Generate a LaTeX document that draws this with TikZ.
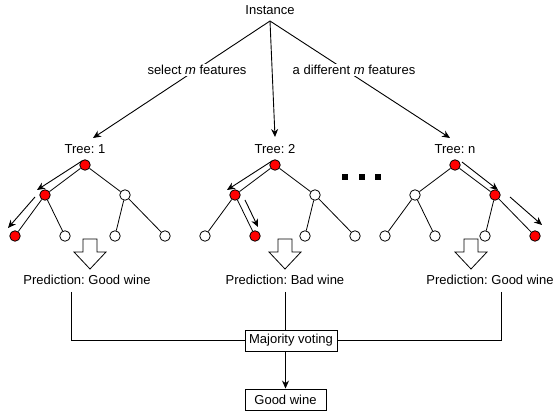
\documentclass[tikz,border=0pt]{standalone}
\usepackage{fontspec}
\setmainfont{Liberation Sans}
\usetikzlibrary{arrows.meta}
\frenchspacing
\tikzset{
  txt/.style={inner sep=0pt, font=\fontsize{13}{15}\selectfont},
  tn/.style={circle, draw, fill=white, minimum size=10.5pt, inner sep=0pt, line width=0.8pt},
  rn/.style={tn, fill=red},
  tedge/.style={line width=0.8pt},
  conn/.style={line width=0.9pt, -{Stealth[length=8pt,width=7pt]}},
  trav/.style={line width=0.9pt, -{Stealth[length=8pt,width=7pt]}},
  boxn/.style={txt, draw, line width=0.9pt, minimum height=21pt},
  dotn/.style={fill=black, minimum size=6pt, inner sep=0pt},
  blockarrow/.pic={\draw[line width=0.8pt, fill=white] (-7,0) -- (7,0) -- (7,13) -- (16,13) -- (0,30) -- (-16,13) -- (-7,13) -- cycle;}
}
\begin{document}
\begin{tikzpicture}[x=1pt,y=-1pt]
\useasboundingbox[fill=white] (0,0) rectangle (555,411);

% top
\node[txt] (inst) at (270,10) {Instance};
\coordinate (apex) at (270,21);
\coordinate (e1) at (93,138);
\coordinate (e2) at (275,137);
\coordinate (e3) at (450,138);
\draw[conn] (apex) -- (e1);
\draw[conn] (apex) -- (e2);
\draw[conn] (apex) -- (e3);
\node[txt, fill=white, inner sep=1pt] (lab1) at (197,70) {select \textit{m} features};
\node[txt, fill=white, inner sep=1pt] (lab2) at (354,70) {a different \textit{m} features};

% tree labels
\node[txt] (t1) at (85,149) {Tree: 1};
\node[txt] (t2) at (275,149) {Tree: 2};
\node[txt] (t3) at (455,149) {Tree: n};

% tree 1
\node[rn] (r1) at (85,165) {};
\node[rn] (m1) at (45,195) {};
\node[tn] (n1) at (125,195) {};
\node[rn] (a1) at (15,236) {};
\node[tn] (b1) at (65,236) {};
\node[tn] (c1) at (115,236) {};
\node[tn] (d1) at (165,236) {};
\draw[tedge] (r1) -- (m1); \draw[tedge] (r1) -- (n1);
\draw[tedge] (m1) -- (a1); \draw[tedge] (m1) -- (b1);
\draw[tedge] (n1) -- (c1); \draw[tedge] (n1) -- (d1);
\draw[trav] ([shift={(-3,-4)}]r1.center) -- ([shift={(-8,-5)}]m1.center);
\draw[trav] ([shift={(-10,2)}]m1.center) -- ([shift={(-7,-8)}]a1.center);

% tree 2
\node[rn] (r2) at (275,165) {};
\node[rn] (m2) at (235,195) {};
\node[tn] (n2) at (315,195) {};
\node[tn] (a2) at (205,236) {};
\node[rn] (b2) at (255,236) {};
\node[tn] (c2) at (305,236) {};
\node[tn] (d2) at (355,236) {};
\draw[tedge] (r2) -- (m2); \draw[tedge] (r2) -- (n2);
\draw[tedge] (m2) -- (a2); \draw[tedge] (m2) -- (b2);
\draw[tedge] (n2) -- (c2); \draw[tedge] (n2) -- (d2);
\draw[trav] ([shift={(-3,-4)}]r2.center) -- ([shift={(-8,-5)}]m2.center);
\draw[trav] ([shift={(10,5)}]m2.center) -- ([shift={(3,-9)}]b2.center);

% tree n
\node[rn] (r3) at (455,165) {};
\node[tn] (m3) at (415,195) {};
\node[rn] (n3) at (495,195) {};
\node[tn] (a3) at (385,236) {};
\node[tn] (b3) at (435,236) {};
\node[tn] (c3) at (485,236) {};
\node[rn] (d3) at (535,236) {};
\draw[tedge] (r3) -- (m3); \draw[tedge] (r3) -- (n3);
\draw[tedge] (m3) -- (a3); \draw[tedge] (m3) -- (b3);
\draw[tedge] (n3) -- (c3); \draw[tedge] (n3) -- (d3);
\draw[trav] ([shift={(7,-3)}]r3.center) -- ([shift={(3,-5)}]n3.center);
\draw[trav] ([shift={(15,2)}]n3.center) -- ([shift={(7,-11)}]d3.center);

% dots
\node[dotn] (dA) at (345,177) {};
\node[dotn] (dB) at (362,177) {};
\node[dotn] (dC) at (378,177) {};

% block arrows
\pic (ba1) at (90,239) {blockarrow};
\pic (ba2) at (285,239) {blockarrow};
\pic (ba3) at (471,239) {blockarrow};

% predictions
\node[txt] (p1) at (87,280) {Prediction: Good wine};
\node[txt] (p2) at (285,280) {Prediction: Bad wine};
\node[txt] (p3) at (490,280) {Prediction: Good wine};

% voting
\node[boxn, minimum width=92pt] (mv) at (291,340.5) {Majority voting};
\node[boxn, minimum width=81pt] (gw) at (285.5,399.5) {Good wine};
\coordinate (v1) at (71,292);
\coordinate (v3) at (501,292);
\coordinate (v2) at (285,292);
\draw[line width=0.9pt] (v1) |- (mv.west);
\draw[line width=0.9pt] (v3) |- (mv.east);
\draw[line width=0.9pt] (v2) -- (v2 |- mv.north);
\draw[conn] (gw.north |- mv.south) -- (gw.north);
\end{tikzpicture}
\end{document}
